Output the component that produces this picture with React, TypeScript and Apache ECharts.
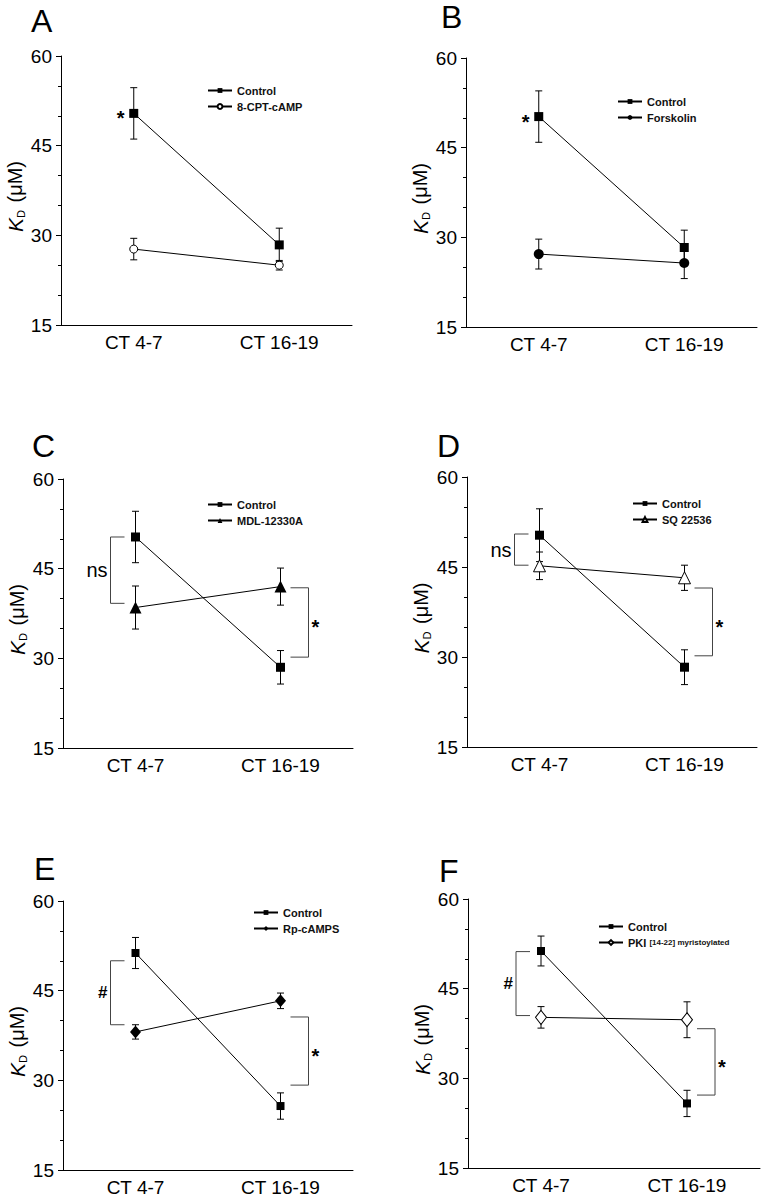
import React, { useEffect, useRef } from 'react';
import * as echarts from 'echarts';

// ---------- data ----------
const categories = ['CT 4-7', 'CT 16-19'];
const yMin = 15;
const yMax = 60;
const yStep = 15;

const panelLetters = ['A', 'B', 'C', 'D', 'E', 'F'];
const controlName = 'Control';
const treatmentNames = ['8-CPT-cAMP', 'Forskolin', 'MDL-12330A', 'SQ 22536', 'Rp-cAMPS', 'PKI [14-22] myristoylated'];

// K_D means (µM) at CT 4-7, CT 16-19
const controlMean = [
  [50.4, 28.4],
  [50.2, 28.3],
  [50.3, 28.5],
  [50.3, 28.3],
  [51.3, 25.7],
  [51.3, 25.8],
];
const controlErr = [
  [4.3, 2.8],
  [4.3, 2.9],
  [4.3, 2.8],
  [4.4, 2.9],
  [2.6, 2.2],
  [2.5, 2.2],
];
const treatMean = [
  [27.7, 25.0],
  [27.2, 25.7],
  [38.5, 42.0],
  [45.2, 43.2],
  [38.1, 43.3],
  [40.2, 39.8],
];
const treatErr = [
  [1.8, 0.8],
  [2.5, 2.6],
  [3.6, 3.1],
  [2.3, 2.1],
  [1.2, 1.3],
  [1.8, 3.0],
];

// significance brackets: [category index, upper value, lower value]
const bracketValues = [
  [],
  [],
  [[0, 50.3, 39.2], [1, 41.8, 30.2]],
  [[0, 50.5, 45.3], [1, 41.5, 30.2]],
  [[0, 50.0, 39.3], [1, 40.6, 29.2]],
  [[0, 51.2, 40.5], [1, 38.3, 27.2]],
];
const bracketLabels = [[], [], ['ns', '*'], ['ns', '*'], ['#', '*'], ['#', '*']];
// asterisk beside a point: [category index, value]
const starValues = [[[0, 50.4]], [[0, 50.2]], [], [], [], []];

// ---------- styling / layout ----------
const FONT = '"Liberation Sans", Arial, sans-serif';

const grids = [
  { left: 61, top: 56, width: 291, height: 269 },
  { left: 466, top: 58, width: 291, height: 269 },
  { left: 63, top: 479, width: 290, height: 269 },
  { left: 467, top: 477, width: 290, height: 270 },
  { left: 63, top: 901, width: 290, height: 269 },
  { left: 468, top: 899, width: 292, height: 269 },
];
const legendPos = [
  { left: 207, top: 84 },
  { left: 617, top: 95 },
  { left: 207, top: 498 },
  { left: 632, top: 497 },
  { left: 253, top: 906 },
  { left: 598, top: 920 },
];
const letterPos = [
  { x: 31, y: 21 },
  { x: 441, y: 17 },
  { x: 32, y: 446 },
  { x: 437, y: 446 },
  { x: 34, y: 869 },
  { x: 439, y: 871 },
];
const treatSymbol = [
  { symbol: 'circle', size: 8, open: true },
  { symbol: 'circle', size: 10, open: false },
  { symbol: 'triangle', size: 12, open: false },
  { symbol: 'triangle', size: 12, open: true },
  { symbol: 'diamond', size: [11, 13], open: false },
  { symbol: 'diamond', size: [11, 14], open: true },
];
const controlSize = [9, 9, 9, 9, 8, 8];

function errorBarRender(params: any, api: any) {
  const c = api.value(0);
  const m = api.value(1);
  const e = api.value(2);
  const top = api.coord([c, m + e]);
  const bot = api.coord([c, m - e]);
  const hw = 3.5;
  const st = { stroke: '#000', lineWidth: 1 };
  return {
    type: 'group',
    children: [
      { type: 'line', shape: { x1: top[0], y1: top[1], x2: bot[0], y2: bot[1] }, style: st },
      { type: 'line', shape: { x1: top[0] - hw, y1: top[1], x2: top[0] + hw, y2: top[1] }, style: st },
      { type: 'line', shape: { x1: bot[0] - hw, y1: bot[1], x2: bot[0] + hw, y2: bot[1] }, style: st },
    ],
  };
}

function makeBracketRender(labels: string[]) {
  return (params: any, api: any) => {
    const i = params.dataIndex;
    const c = api.value(0);
    const p1 = api.coord([c, api.value(1)]);
    const p2 = api.coord([c, api.value(2)]);
    const left = c === 0;
    const cx = p1[0];
    const vx = left ? cx - 25 : cx + 28;
    const ax = left ? cx - 11 : cx + 10;
    const label = labels[i];
    const star = label === '*';
    const hash = label === '#';
    const midY = (p1[1] + p2[1]) / 2;
    return {
      type: 'group',
      children: [
        {
          type: 'polyline',
          shape: { points: [[ax, p1[1]], [vx, p1[1]], [vx, p2[1]], [ax, p2[1]]] },
          style: { stroke: '#444', lineWidth: 1, fill: 'none' },
        },
        {
          type: 'text',
          style: {
            text: label,
            x: left ? cx - 28 : cx + 35,
            y: midY + (star ? 5 : 0),
            align: left ? 'right' : 'center',
            verticalAlign: 'middle',
            fontSize: star ? 20 : hash ? 17 : 20,
            fontWeight: star || hash ? 'bold' : 'normal',
            fontFamily: FONT,
            fill: '#000',
          },
        },
      ],
    };
  };
}

function starRender(params: any, api: any) {
  const p = api.coord([api.value(0), api.value(1)]);
  return {
    type: 'text',
    style: {
      text: '*',
      x: p[0] - 13,
      y: p[1] + 5,
      align: 'center',
      verticalAlign: 'middle',
      fontSize: 20,
      fontWeight: 'bold',
      fontFamily: FONT,
      fill: '#000',
    },
  };
}

function buildOption() {
  const grid: any[] = [];
  const xAxis: any[] = [];
  const yAxis: any[] = [];
  const series: any[] = [];
  const legend: any[] = [];
  const graphic: any[] = [];

  for (let p = 0; p < 6; p++) {
    grid.push({ ...grids[p], containLabel: false });
    xAxis.push({
      type: 'category',
      gridIndex: p,
      data: categories,
      boundaryGap: true,
      axisLine: { lineStyle: { color: '#000', width: 1 } },
      axisTick: { alignWithLabel: true, length: 5, lineStyle: { color: '#000' } },
      axisLabel: { fontSize: 19, fontFamily: FONT, color: '#000', margin: 8 },
      splitLine: { show: false },
    });
    yAxis.push({
      type: 'value',
      gridIndex: p,
      min: yMin,
      max: yMax,
      interval: yStep,
      name: '{k|K}{d|D} (μM)',
      nameLocation: 'middle',
      nameRotate: 90,
      nameGap: 31,
      nameTextStyle: {
        fontSize: 20,
        fontFamily: FONT,
        color: '#000',
        padding: [0, 12, 0, 0],
        rich: {
          k: { fontSize: 21, fontStyle: 'italic', fontFamily: FONT, color: '#000' },
          d: { fontSize: 11, fontFamily: FONT, color: '#000', padding: [12, 2, 0, 0] },
        },
      },
      axisLine: { show: true, lineStyle: { color: '#000', width: 1 } },
      axisTick: { show: true, length: 5, lineStyle: { color: '#000' } },
      minorTick: { show: true, splitNumber: 3, length: 3, lineStyle: { color: '#000' } },
      axisLabel: { fontSize: 19, fontFamily: FONT, color: '#000', margin: 9 },
      splitLine: { show: false },
      minorSplitLine: { show: false },
    });

    const ts = treatSymbol[p];
    series.push({
      type: 'custom',
      name: 'err' + p,
      xAxisIndex: p,
      yAxisIndex: p,
      renderItem: errorBarRender,
      z: 1,
      silent: true,
      data: [
        [0, controlMean[p][0], controlErr[p][0]],
        [1, controlMean[p][1], controlErr[p][1]],
        [0, treatMean[p][0], treatErr[p][0]],
        [1, treatMean[p][1], treatErr[p][1]],
      ],
    });
    series.push({
      type: 'line',
      name: controlName,
      xAxisIndex: p,
      yAxisIndex: p,
      data: controlMean[p],
      symbol: 'rect',
      symbolSize: controlSize[p],
      showAllSymbol: true,
      lineStyle: { color: '#000', width: 1 },
      itemStyle: { color: '#000', borderColor: '#000', borderWidth: 0 },
      z: 3,
    });
    series.push({
      type: 'line',
      name: treatmentNames[p],
      xAxisIndex: p,
      yAxisIndex: p,
      data: treatMean[p],
      symbol: ts.symbol,
      symbolSize: ts.size,
      showAllSymbol: true,
      lineStyle: { color: '#000', width: 1 },
      itemStyle: ts.open
        ? { color: '#fff', borderColor: '#000', borderWidth: 1 }
        : { color: '#000', borderColor: '#000', borderWidth: 0 },
      z: 3,
    });
    if (bracketValues[p].length) {
      series.push({
        type: 'custom',
        name: 'brackets' + p,
        xAxisIndex: p,
        yAxisIndex: p,
        renderItem: makeBracketRender(bracketLabels[p]),
        data: bracketValues[p],
        silent: true,
        clip: false,
        z: 4,
      });
    }
    if (starValues[p].length) {
      series.push({
        type: 'custom',
        name: 'star' + p,
        xAxisIndex: p,
        yAxisIndex: p,
        renderItem: starRender,
        data: starValues[p],
        silent: true,
        clip: false,
        z: 4,
      });
    }

    legend.push({
      data: [controlName, treatmentNames[p]],
      orient: 'vertical',
      left: legendPos[p].left,
      top: legendPos[p].top,
      itemWidth: 24,
      itemHeight: 6,
      itemGap: 3,
      selectedMode: false,
      padding: 0,
      formatter: (name: string) =>
        name.indexOf('PKI') === 0 ? '{a|PKI} {b|' + name.slice(4) + '}' : name,
      textStyle: {
        fontSize: 11,
        lineHeight: 13,
        fontWeight: 'bold',
        fontFamily: FONT,
        color: '#111',
        rich: {
          a: { fontSize: 11, lineHeight: 13, fontWeight: 'bold', fontFamily: FONT, color: '#111' },
          b: { fontSize: 8, lineHeight: 13, fontWeight: 'bold', fontFamily: FONT, color: '#111' },
        },
      },
    });

    graphic.push({
      type: 'text',
      x: letterPos[p].x,
      y: letterPos[p].y,
      style: {
        text: panelLetters[p],
        fontSize: 32,
        fontFamily: FONT,
        fill: '#000',
        verticalAlign: 'middle',
        align: 'left',
      },
    });
  }

  return {
    animation: false,
    backgroundColor: '#fff',
    grid,
    xAxis,
    yAxis,
    series,
    legend,
    graphic,
  };
}

export default function App() {
  const ref = useRef<HTMLDivElement>(null);
  useEffect(() => {
    if (!ref.current) return;
    const chart = echarts.init(ref.current, undefined, { renderer: 'svg' });
    chart.setOption(buildOption() as any);
    return () => chart.dispose();
  }, []);
  return (
    <div
      ref={ref}
      style={{ position: 'absolute', left: 0, top: 0, width: 763, height: 1199, background: '#fff' }}
    />
  );
}
